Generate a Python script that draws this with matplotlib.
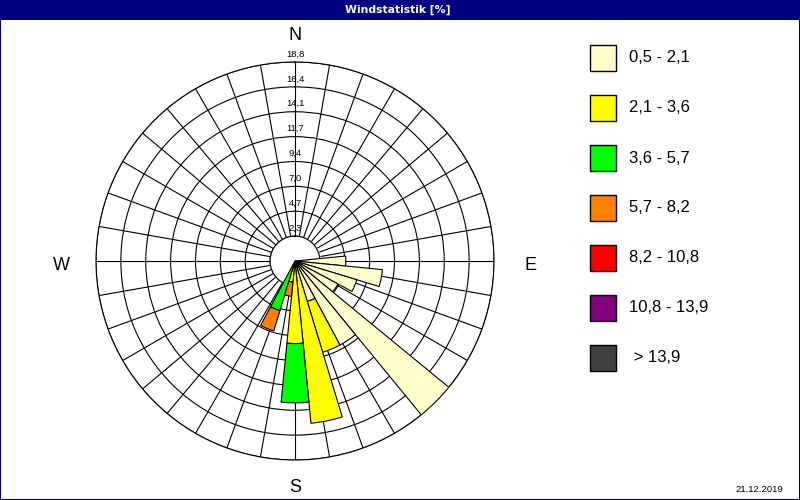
import numpy as np
import matplotlib
matplotlib.use("Agg")
import matplotlib.pyplot as plt
from matplotlib.patches import Rectangle

plt.rcParams['font.family'] = ['Liberation Sans', 'DejaVu Sans']

# ---- data ----
title = "Windstatistik [%]"
date_text = "21.12.2019"
directions = [90, 101.25, 112.5, 123.75, 135, 146.25, 157.5, 168.75, 180, 191.25, 202.5]
cls_0_5_2_1 = [4.8, 8.3, 6.1, 4.6, 18.8, 9.0, 4.0, 0.0, 0.0, 0.0, 0.0]
cls_2_1_3_6 = [0.0, 0.0, 0.0, 0.0, 0.0, 0.0, 5.0, 15.4, 7.8, 2.0, 0.0]
cls_3_6_5_7 = [0.0, 0.0, 0.0, 0.0, 0.0, 0.0, 0.0, 0.0, 5.6, 0.0, 4.9]
cls_5_7_8_2 = [0.0, 0.0, 0.0, 0.0, 0.0, 0.0, 0.0, 0.0, 0.0, 1.35, 2.0]
cls_8_2_10_8 = [0.0] * 11
cls_10_8_13_9 = [0.0] * 11
cls_gt_13_9 = [0.0] * 11
classes = [cls_0_5_2_1, cls_2_1_3_6, cls_3_6_5_7, cls_5_7_8_2,
           cls_8_2_10_8, cls_10_8_13_9, cls_gt_13_9]
class_labels = ["0,5 - 2,1", "2,1 - 3,6", "3,6 - 5,7", "5,7 - 8,2",
                "8,2 - 10,8", "10,8 - 13,9", " > 13,9"]
class_colors = ["#FFFFCC", "#FFFF00", "#00FF00", "#FF8000",
                "#FF0000", "#800080", "#404040"]
ring_values = [2.35, 4.7, 7.05, 9.4, 11.75, 14.1, 16.45, 18.8]
ring_labels = ["2,3", "4,7", "7,0", "9,4", "11,7", "14,1", "16,4", "18,8"]
sector_width = 11.25

W, H = 800, 500
fig = plt.figure(figsize=(8, 5), dpi=100)
fig.patch.set_facecolor("white")

def fx(px):
    return px / W

def fy(py):
    return 1 - py / H

# title bar and frame
fig.patches.append(Rectangle((0, fy(20)), 1, 20 / H, transform=fig.transFigure,
                             facecolor="#000080", edgecolor="none", zorder=0))
fig.patches.append(Rectangle((0.0006, 0.001), 0.9988, 0.998, transform=fig.transFigure,
                             facecolor="none", edgecolor="#000080", lw=1.5, zorder=5))
fig.text(0.4975, fy(10), title, color="white", fontsize=7.8, fontweight="bold",
         ha="center", va="center", family=["DejaVu Sans"])

# polar axes
cx, cy, R = 295, 261, 199
ax = fig.add_axes([fx(cx - R), fy(cy + R), 2 * R / W, 2 * R / H], projection="polar")
ax.set_theta_zero_location("N")
ax.set_theta_direction(-1)
rmax = ring_values[-1]
ax.set_ylim(0, rmax)
ax.set_xticks(np.deg2rad(np.arange(0, 360, 10)))
ax.set_yticks(ring_values)
ax.set_xticklabels([])
ax.set_yticklabels([])
ax.set_axisbelow(True)
ax.grid(True, color="black", lw=0.8)
ax.spines["polar"].set_color("black")
ax.spines["polar"].set_linewidth(0.8)
ax.set_facecolor("white")

# white hole in the middle
th = np.linspace(0, 2 * np.pi, 400)
ax.fill_between(th, 0, ring_values[0], color="white", zorder=1)
ax.plot(th, np.full_like(th, ring_values[0]), color="black", lw=0.8, zorder=1.5)

# stacked bars
theta = np.deg2rad(directions)
bottom = np.zeros(len(directions))
for vals, col in zip(classes, class_colors):
    vals = np.array(vals)
    m = vals > 0
    if m.any():
        ax.bar(theta[m], vals[m], width=np.deg2rad(sector_width), bottom=bottom[m],
               color=col, edgecolor="black", linewidth=0.8, zorder=3, align="center")
    bottom += vals

# ring labels along north axis
for v, lab in zip(ring_values, ring_labels):
    ax.annotate(lab, xy=(0, v), xytext=(0, 2.5), textcoords="offset points",
                ha="center", va="bottom", fontsize=6.8, zorder=4, annotation_clip=False)

# compass labels
fig.text(fx(295), fy(36), "N", fontsize=13, ha="center", va="center")
fig.text(fx(530), fy(265), "E", fontsize=13, ha="center", va="center")
fig.text(fx(295), fy(488), "S", fontsize=13, ha="center", va="center")
fig.text(fx(61), fy(265), "W", fontsize=13, ha="center", va="center")

# legend
for i, (lab, col) in enumerate(zip(class_labels, class_colors)):
    top = 45 + 50 * i
    fig.patches.append(Rectangle((fx(590), fy(top + 26)), 26 / W, 26 / H,
                                 transform=fig.transFigure, facecolor=col,
                                 edgecolor="black", lw=1.0, zorder=3))
    fig.text(fx(629), fy(top + 13), lab, fontsize=12, ha="left", va="center")

fig.text(fx(783), fy(489), date_text, fontsize=6.8, ha="right", va="center")

fig.savefig("out.png", dpi=100, facecolor=fig.get_facecolor())
